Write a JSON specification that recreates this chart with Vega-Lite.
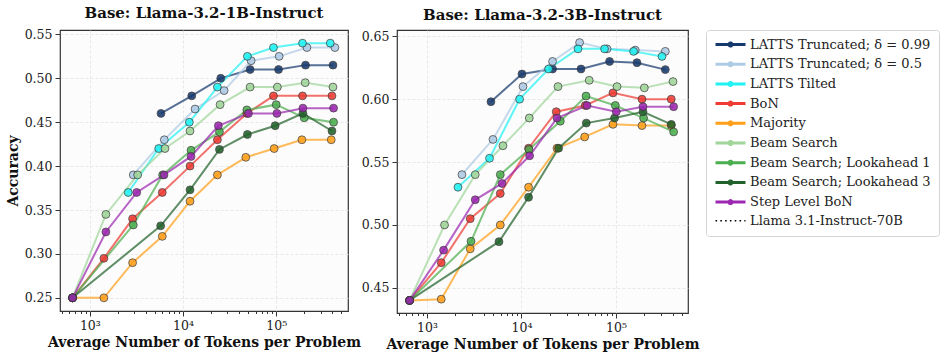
{
  "$schema": "https://vega.github.io/schema/vega-lite/v6.json",
  "background": "white",
  "padding": 5,
  "spacing": 49,
  "bounds": "flush",
  "datasets": {
    "d": [
      {"model":"1B","method":"LATTS Truncated; δ = 0.99","tokens":5800,"acc":0.46},
      {"model":"1B","method":"LATTS Truncated; δ = 0.99","tokens":12400,"acc":0.48},
      {"model":"1B","method":"LATTS Truncated; δ = 0.99","tokens":25400,"acc":0.50},
      {"model":"1B","method":"LATTS Truncated; δ = 0.99","tokens":52500,"acc":0.51},
      {"model":"1B","method":"LATTS Truncated; δ = 0.99","tokens":106000,"acc":0.51},
      {"model":"1B","method":"LATTS Truncated; δ = 0.99","tokens":206500,"acc":0.515},
      {"model":"1B","method":"LATTS Truncated; δ = 0.99","tokens":407000,"acc":0.515},
      {"model":"1B","method":"LATTS Truncated; δ = 0.5","tokens":2925,"acc":0.39},
      {"model":"1B","method":"LATTS Truncated; δ = 0.5","tokens":6300,"acc":0.43},
      {"model":"1B","method":"LATTS Truncated; δ = 0.5","tokens":13460,"acc":0.465},
      {"model":"1B","method":"LATTS Truncated; δ = 0.5","tokens":27600,"acc":0.486},
      {"model":"1B","method":"LATTS Truncated; δ = 0.5","tokens":53800,"acc":0.52},
      {"model":"1B","method":"LATTS Truncated; δ = 0.5","tokens":107600,"acc":0.525},
      {"model":"1B","method":"LATTS Truncated; δ = 0.5","tokens":213800,"acc":0.535},
      {"model":"1B","method":"LATTS Truncated; δ = 0.5","tokens":427000,"acc":0.535},
      {"model":"1B","method":"LATTS Tilted","tokens":2582,"acc":0.37},
      {"model":"1B","method":"LATTS Tilted","tokens":5480,"acc":0.42},
      {"model":"1B","method":"LATTS Tilted","tokens":11690,"acc":0.45},
      {"model":"1B","method":"LATTS Tilted","tokens":23390,"acc":0.49},
      {"model":"1B","method":"LATTS Tilted","tokens":49100,"acc":0.525},
      {"model":"1B","method":"LATTS Tilted","tokens":93500,"acc":0.535},
      {"model":"1B","method":"LATTS Tilted","tokens":191700,"acc":0.54},
      {"model":"1B","method":"LATTS Tilted","tokens":380800,"acc":0.54},
      {"model":"1B","method":"BoN","tokens":652,"acc":0.25},
      {"model":"1B","method":"BoN","tokens":1414,"acc":0.295},
      {"model":"1B","method":"BoN","tokens":2876,"acc":0.34},
      {"model":"1B","method":"BoN","tokens":5989,"acc":0.37},
      {"model":"1B","method":"BoN","tokens":11890,"acc":0.40},
      {"model":"1B","method":"BoN","tokens":23390,"acc":0.43},
      {"model":"1B","method":"BoN","tokens":48400,"acc":0.46},
      {"model":"1B","method":"BoN","tokens":93500,"acc":0.48},
      {"model":"1B","method":"BoN","tokens":191700,"acc":0.48},
      {"model":"1B","method":"BoN","tokens":397000,"acc":0.48},
      {"model":"1B","method":"Majority","tokens":652,"acc":0.25},
      {"model":"1B","method":"Majority","tokens":1414,"acc":0.25},
      {"model":"1B","method":"Majority","tokens":2876,"acc":0.29},
      {"model":"1B","method":"Majority","tokens":5989,"acc":0.32},
      {"model":"1B","method":"Majority","tokens":11890,"acc":0.36},
      {"model":"1B","method":"Majority","tokens":23390,"acc":0.39},
      {"model":"1B","method":"Majority","tokens":47200,"acc":0.41},
      {"model":"1B","method":"Majority","tokens":95100,"acc":0.42},
      {"model":"1B","method":"Majority","tokens":188800,"acc":0.43},
      {"model":"1B","method":"Majority","tokens":390000,"acc":0.43},
      {"model":"1B","method":"Beam Search","tokens":652,"acc":0.25},
      {"model":"1B","method":"Beam Search","tokens":1486,"acc":0.345},
      {"model":"1B","method":"Beam Search","tokens":3258,"acc":0.39},
      {"model":"1B","method":"Beam Search","tokens":6401,"acc":0.42},
      {"model":"1B","method":"Beam Search","tokens":11890,"acc":0.44},
      {"model":"1B","method":"Beam Search","tokens":24990,"acc":0.47},
      {"model":"1B","method":"Beam Search","tokens":52500,"acc":0.49},
      {"model":"1B","method":"Beam Search","tokens":103000,"acc":0.49},
      {"model":"1B","method":"Beam Search","tokens":205000,"acc":0.495},
      {"model":"1B","method":"Beam Search","tokens":407000,"acc":0.49},
      {"model":"1B","method":"Beam Search; Lookahead 1","tokens":652,"acc":0.25},
      {"model":"1B","method":"Beam Search; Lookahead 1","tokens":2925,"acc":0.333},
      {"model":"1B","method":"Beam Search; Lookahead 1","tokens":6040,"acc":0.39},
      {"model":"1B","method":"Beam Search; Lookahead 1","tokens":12190,"acc":0.418},
      {"model":"1B","method":"Beam Search; Lookahead 1","tokens":24600,"acc":0.439},
      {"model":"1B","method":"Beam Search; Lookahead 1","tokens":48400,"acc":0.464},
      {"model":"1B","method":"Beam Search; Lookahead 1","tokens":100000,"acc":0.47},
      {"model":"1B","method":"Beam Search; Lookahead 1","tokens":200000,"acc":0.455},
      {"model":"1B","method":"Beam Search; Lookahead 1","tokens":413000,"acc":0.45},
      {"model":"1B","method":"Beam Search; Lookahead 3","tokens":652,"acc":0.25},
      {"model":"1B","method":"Beam Search; Lookahead 3","tokens":5754,"acc":0.332},
      {"model":"1B","method":"Beam Search; Lookahead 3","tokens":11890,"acc":0.373},
      {"model":"1B","method":"Beam Search; Lookahead 3","tokens":24600,"acc":0.419},
      {"model":"1B","method":"Beam Search; Lookahead 3","tokens":49100,"acc":0.436},
      {"model":"1B","method":"Beam Search; Lookahead 3","tokens":97500,"acc":0.446},
      {"model":"1B","method":"Beam Search; Lookahead 3","tokens":193600,"acc":0.46},
      {"model":"1B","method":"Beam Search; Lookahead 3","tokens":397000,"acc":0.44},
      {"model":"1B","method":"Step Level BoN","tokens":652,"acc":0.25},
      {"model":"1B","method":"Step Level BoN","tokens":1486,"acc":0.325},
      {"model":"1B","method":"Step Level BoN","tokens":3180,"acc":0.37},
      {"model":"1B","method":"Step Level BoN","tokens":6249,"acc":0.39},
      {"model":"1B","method":"Step Level BoN","tokens":12190,"acc":0.411},
      {"model":"1B","method":"Step Level BoN","tokens":23950,"acc":0.446},
      {"model":"1B","method":"Step Level BoN","tokens":50400,"acc":0.46},
      {"model":"1B","method":"Step Level BoN","tokens":101800,"acc":0.46},
      {"model":"1B","method":"Step Level BoN","tokens":193600,"acc":0.466},
      {"model":"1B","method":"Step Level BoN","tokens":413000,"acc":0.466},

      {"model":"3B","method":"LATTS Truncated; δ = 0.99","tokens":4753,"acc":0.598},
      {"model":"3B","method":"LATTS Truncated; δ = 0.99","tokens":10120,"acc":0.62},
      {"model":"3B","method":"LATTS Truncated; δ = 0.99","tokens":21330,"acc":0.624},
      {"model":"3B","method":"LATTS Truncated; δ = 0.99","tokens":42660,"acc":0.624},
      {"model":"3B","method":"LATTS Truncated; δ = 0.99","tokens":85500,"acc":0.63},
      {"model":"3B","method":"LATTS Truncated; δ = 0.99","tokens":166700,"acc":0.629},
      {"model":"3B","method":"LATTS Truncated; δ = 0.99","tokens":332600,"acc":0.6235},
      {"model":"3B","method":"LATTS Truncated; δ = 0.5","tokens":2345,"acc":0.54},
      {"model":"3B","method":"LATTS Truncated; δ = 0.5","tokens":4990,"acc":0.568},
      {"model":"3B","method":"LATTS Truncated; δ = 0.5","tokens":10380,"acc":0.61},
      {"model":"3B","method":"LATTS Truncated; δ = 0.5","tokens":21330,"acc":0.63},
      {"model":"3B","method":"LATTS Truncated; δ = 0.5","tokens":41210,"acc":0.645},
      {"model":"3B","method":"LATTS Truncated; δ = 0.5","tokens":80400,"acc":0.64},
      {"model":"3B","method":"LATTS Truncated; δ = 0.5","tokens":160000,"acc":0.639},
      {"model":"3B","method":"LATTS Truncated; δ = 0.5","tokens":332600,"acc":0.638},
      {"model":"3B","method":"LATTS Tilted","tokens":2128,"acc":0.53},
      {"model":"3B","method":"LATTS Tilted","tokens":4593,"acc":0.553},
      {"model":"3B","method":"LATTS Tilted","tokens":9550,"acc":0.60},
      {"model":"3B","method":"LATTS Tilted","tokens":19360,"acc":0.624},
      {"model":"3B","method":"LATTS Tilted","tokens":39650,"acc":0.64},
      {"model":"3B","method":"LATTS Tilted","tokens":75700,"acc":0.64},
      {"model":"3B","method":"LATTS Tilted","tokens":153500,"acc":0.638},
      {"model":"3B","method":"LATTS Tilted","tokens":306900,"acc":0.634},
      {"model":"3B","method":"BoN","tokens":655,"acc":0.44},
      {"model":"3B","method":"BoN","tokens":1417,"acc":0.47},
      {"model":"3B","method":"BoN","tokens":2870,"acc":0.505},
      {"model":"3B","method":"BoN","tokens":5970,"acc":0.525},
      {"model":"3B","method":"BoN","tokens":11890,"acc":0.561},
      {"model":"3B","method":"BoN","tokens":23340,"acc":0.59},
      {"model":"3B","method":"BoN","tokens":47300,"acc":0.595},
      {"model":"3B","method":"BoN","tokens":92900,"acc":0.605},
      {"model":"3B","method":"BoN","tokens":188400,"acc":0.60},
      {"model":"3B","method":"BoN","tokens":384500,"acc":0.60},
      {"model":"3B","method":"Majority","tokens":655,"acc":0.44},
      {"model":"3B","method":"Majority","tokens":1417,"acc":0.441},
      {"model":"3B","method":"Majority","tokens":2870,"acc":0.481},
      {"model":"3B","method":"Majority","tokens":5970,"acc":0.50},
      {"model":"3B","method":"Majority","tokens":11890,"acc":0.53},
      {"model":"3B","method":"Majority","tokens":23770,"acc":0.561},
      {"model":"3B","method":"Majority","tokens":46600,"acc":0.57},
      {"model":"3B","method":"Majority","tokens":92900,"acc":0.58},
      {"model":"3B","method":"Majority","tokens":188400,"acc":0.579},
      {"model":"3B","method":"Majority","tokens":384500,"acc":0.579},
      {"model":"3B","method":"Beam Search","tokens":655,"acc":0.44},
      {"model":"3B","method":"Beam Search","tokens":1535,"acc":0.50},
      {"model":"3B","method":"Beam Search","tokens":3243,"acc":0.54},
      {"model":"3B","method":"Beam Search","tokens":6370,"acc":0.563},
      {"model":"3B","method":"Beam Search","tokens":12100,"acc":0.585},
      {"model":"3B","method":"Beam Search","tokens":24330,"acc":0.61},
      {"model":"3B","method":"Beam Search","tokens":52100,"acc":0.615},
      {"model":"3B","method":"Beam Search","tokens":102600,"acc":0.61},
      {"model":"3B","method":"Beam Search","tokens":199500,"acc":0.609},
      {"model":"3B","method":"Beam Search","tokens":401000,"acc":0.614},
      {"model":"3B","method":"Beam Search; Lookahead 1","tokens":655,"acc":0.44},
      {"model":"3B","method":"Beam Search; Lookahead 1","tokens":2927,"acc":0.487},
      {"model":"3B","method":"Beam Search; Lookahead 1","tokens":5970,"acc":0.54},
      {"model":"3B","method":"Beam Search; Lookahead 1","tokens":12000,"acc":0.56},
      {"model":"3B","method":"Beam Search; Lookahead 1","tokens":25770,"acc":0.5825},
      {"model":"3B","method":"Beam Search; Lookahead 1","tokens":48200,"acc":0.6025},
      {"model":"3B","method":"Beam Search; Lookahead 1","tokens":98400,"acc":0.595},
      {"model":"3B","method":"Beam Search; Lookahead 1","tokens":195900,"acc":0.585},
      {"model":"3B","method":"Beam Search; Lookahead 1","tokens":407300,"acc":0.574},
      {"model":"3B","method":"Beam Search; Lookahead 3","tokens":655,"acc":0.44},
      {"model":"3B","method":"Beam Search; Lookahead 3","tokens":5780,"acc":0.4867},
      {"model":"3B","method":"Beam Search; Lookahead 3","tokens":11890,"acc":0.522},
      {"model":"3B","method":"Beam Search; Lookahead 3","tokens":24710,"acc":0.561},
      {"model":"3B","method":"Beam Search; Lookahead 3","tokens":48530,"acc":0.581},
      {"model":"3B","method":"Beam Search; Lookahead 3","tokens":96600,"acc":0.585},
      {"model":"3B","method":"Beam Search; Lookahead 3","tokens":193100,"acc":0.59},
      {"model":"3B","method":"Beam Search; Lookahead 3","tokens":384500,"acc":0.58},
      {"model":"3B","method":"Step Level BoN","tokens":655,"acc":0.44},
      {"model":"3B","method":"Step Level BoN","tokens":1500,"acc":0.48},
      {"model":"3B","method":"Step Level BoN","tokens":3243,"acc":0.52},
      {"model":"3B","method":"Step Level BoN","tokens":6220,"acc":0.533},
      {"model":"3B","method":"Step Level BoN","tokens":12190,"acc":0.555},
      {"model":"3B","method":"Step Level BoN","tokens":23770,"acc":0.585},
      {"model":"3B","method":"Step Level BoN","tokens":49350,"acc":0.595},
      {"model":"3B","method":"Step Level BoN","tokens":100700,"acc":0.59},
      {"model":"3B","method":"Step Level BoN","tokens":193100,"acc":0.594},
      {"model":"3B","method":"Step Level BoN","tokens":407300,"acc":0.594}
    ],
    "ref": [
      {"model":"3B","method":"Llama 3.1-Instruct-70B","acc":0.65}
    ]
  },
  "hconcat": [
    {
      "title": {"text": "Base: Llama-3.2-1B-Instruct"},
      "width": 288,
      "height": 281,
      "data": {"name": "d"},
      "transform": [{"filter": "datum.model === '1B'"}],
      "encoding": {
        "x": {"field": "tokens", "type": "quantitative",
          "scale": {"type": "log", "domain": [478, 590000], "nice": false},
          "axis": {"title": "Average Number of Tokens per Problem",
            "values": [500,600,700,800,900,1000,2000,3000,4000,5000,6000,7000,8000,9000,10000,20000,30000,40000,50000,60000,70000,80000,90000,100000,200000,300000,400000,500000],
            "labelExpr": "datum.value == 1000 ? '10³' : datum.value == 10000 ? '10⁴' : datum.value == 100000 ? '10⁵' : ''",
            "tickSize": {"condition": {"test": "datum.value == 1000 || datum.value == 10000 || datum.value == 100000", "value": 5}, "value": 2.5},
            "gridOpacity": {"condition": {"test": "datum.value == 1000 || datum.value == 10000 || datum.value == 100000", "value": 1}, "value": 0}}},
        "y": {"field": "acc", "type": "quantitative",
          "scale": {"domain": [0.235, 0.555], "nice": false, "zero": false},
          "axis": {"title": "Accuracy", "values": [0.25,0.30,0.35,0.40,0.45,0.50,0.55], "format": ".2f"}},
        "color": {"field": "method", "type": "nominal",
          "scale": {"domain": ["LATTS Truncated; δ = 0.99","LATTS Truncated; δ = 0.5","LATTS Tilted","BoN","Majority","Beam Search","Beam Search; Lookahead 1","Beam Search; Lookahead 3","Step Level BoN","Llama 3.1-Instruct-70B"],
                    "range": ["#173a6e","#aecbe6","#22f2f2","#ee3b33","#ff9f1a","#a1d69b","#4caf4f","#22632b","#9c27b0","#000000"]},
          "legend": {"title": null, "offset": 6, "labelLimit": 300, "labelOffset": 23,
            "encode": {"symbols": {"update": {
              "shape": {"signal": "datum.value === 'Llama 3.1-Instruct-70B' ? 'M-1,0L5,0' : 'M-1,0L5,0M1.7,0A0.3,0.3 0 1,0 2.3,0A0.3,0.3 0 1,0 1.7,0Z'"},
              "size": {"value": 100},
              "stroke": {"signal": "scale('color', datum.value)"},
              "fill": {"signal": "scale('color', datum.value)"},
              "strokeWidth": {"signal": "datum.value === 'Llama 3.1-Instruct-70B' ? 1.6 : 3"},
              "strokeDash": {"signal": "datum.value === 'Llama 3.1-Instruct-70B' ? [1.6, 3.2] : [1, 0]"},
              "opacity": {"value": 1}
            }}}}}
      },
      "layer": [
        {"mark": {"type": "line", "strokeWidth": 2, "opacity": 0.72}},
        {"mark": {"type": "point", "filled": true, "size": 62, "opacity": 0.88, "stroke": "#333", "strokeWidth": 0.8}}
      ]
    },
    {
      "title": {"text": "Base: Llama-3.2-3B-Instruct"},
      "width": 291,
      "height": 283,
      "layer": [
        {
          "data": {"name": "d"},
          "transform": [{"filter": "datum.model === '3B'"}],
          "mark": {"type": "line", "strokeWidth": 2, "opacity": 0.72},
          "encoding": {
            "x": {"field": "tokens", "type": "quantitative"},
            "y": {"field": "acc", "type": "quantitative"}
          }
        },
        {
          "data": {"name": "d"},
          "transform": [{"filter": "datum.model === '3B'"}],
          "mark": {"type": "point", "filled": true, "size": 62, "opacity": 0.88, "stroke": "#333", "strokeWidth": 0.8},
          "encoding": {
            "x": {"field": "tokens", "type": "quantitative"},
            "y": {"field": "acc", "type": "quantitative"}
          }
        },
        {
          "data": {"name": "ref"},
          "mark": {"type": "rule", "color": "#000000", "strokeWidth": 2, "strokeDash": [1.6, 3.2]},
          "encoding": {
            "y": {"field": "acc", "type": "quantitative"}
          }
        }
      ],
      "encoding": {
        "x": {"field": "tokens", "type": "quantitative",
          "scale": {"type": "log", "domain": [482, 578000], "nice": false},
          "axis": {"title": "Average Number of Tokens per Problem",
            "values": [500,600,700,800,900,1000,2000,3000,4000,5000,6000,7000,8000,9000,10000,20000,30000,40000,50000,60000,70000,80000,90000,100000,200000,300000,400000,500000],
            "labelExpr": "datum.value == 1000 ? '10³' : datum.value == 10000 ? '10⁴' : datum.value == 100000 ? '10⁵' : ''",
            "tickSize": {"condition": {"test": "datum.value == 1000 || datum.value == 10000 || datum.value == 100000", "value": 5}, "value": 2.5},
            "gridOpacity": {"condition": {"test": "datum.value == 1000 || datum.value == 10000 || datum.value == 100000", "value": 1}, "value": 0}}},
        "y": {"field": "acc", "type": "quantitative",
          "scale": {"domain": [0.430, 0.655], "nice": false, "zero": false},
          "axis": {"title": null, "values": [0.45,0.50,0.55,0.60,0.65], "format": ".2f"}},
        "color": {"field": "method", "type": "nominal",
          "legend": {"title": null, "offset": 6, "labelLimit": 300, "labelOffset": 23,
            "encode": {"symbols": {"update": {
              "shape": {"signal": "datum.value === 'Llama 3.1-Instruct-70B' ? 'M-1,0L5,0' : 'M-1,0L5,0M1.7,0A0.3,0.3 0 1,0 2.3,0A0.3,0.3 0 1,0 1.7,0Z'"},
              "size": {"value": 100},
              "stroke": {"signal": "scale('color', datum.value)"},
              "fill": {"signal": "scale('color', datum.value)"},
              "strokeWidth": {"signal": "datum.value === 'Llama 3.1-Instruct-70B' ? 1.6 : 3"},
              "strokeDash": {"signal": "datum.value === 'Llama 3.1-Instruct-70B' ? [1.6, 3.2] : [1, 0]"},
              "opacity": {"value": 1}
            }}}}}
      }
    }
  ],
  "resolve": {"scale": {"color": "shared"}, "legend": {"color": "shared"}},
  "config": {
    "font": "DejaVu Serif",
    "view": {"fill": "#fcfcfc", "stroke": "#333333", "strokeWidth": 1.2},
    "title": {"font": "DejaVu Serif", "fontSize": 15, "fontWeight": "bold", "offset": 7, "color": "#111111"},
    "axis": {"labelFont": "DejaVu Serif", "labelFontSize": 12.5, "labelColor": "#222222",
      "titleFont": "DejaVu Serif", "titleFontSize": 14, "titleFontWeight": "bold", "titleColor": "#111111",
      "gridColor": "#e2e2e2", "gridDash": [3, 2], "gridWidth": 0.8, "tickColor": "#333333", "domain": false, "labelPadding": 3},
    "legend": {"labelFont": "DejaVu Serif", "labelFontSize": 13, "labelColor": "#222222",
      "strokeColor": "#d4d4d4", "padding": 8, "cornerRadius": 3, "rowPadding": 4.7}
  }
}
